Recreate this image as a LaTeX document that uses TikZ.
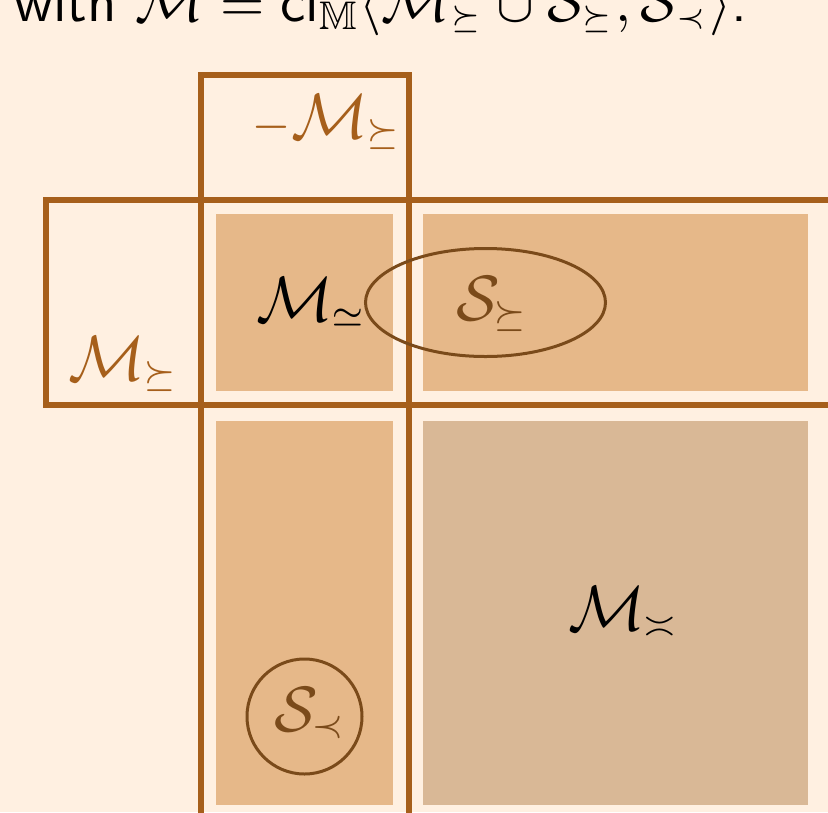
\documentclass[tikz,border=0pt]{standalone}
\usepackage{amsmath,amssymb}
\usepackage{fontspec}
\definecolor{bg}{HTML}{FFF0E1}
\definecolor{framec}{HTML}{A65F1B}
\definecolor{cellA}{HTML}{E6B889}
\definecolor{cellB}{HTML}{D9B896}
\definecolor{ringc}{HTML}{7A4A1A}
\newcommand{\ssub}[1]{_{\kern-0.4pt\raisebox{0.8pt}{$\scriptscriptstyle #1$}}}
\newcommand{\tsub}[1]{_{\raisebox{0.6pt}{$\scriptscriptstyle #1$}}}
\tikzset{
  gridline/.style={draw=framec, line width=6pt},
  ringline/.style={draw=ringc, line width=3pt},
  lab/.style={inner sep=0pt, anchor=base west, scale=6.4, transform shape},
}
\begin{document}
\begin{tikzpicture}[x=1pt,y=-1pt]
\useasboundingbox (0,0) rectangle (828,812);
\fill[bg] (0,0) rectangle (828,812);
% cells
\fill[cellA] (216,214) rectangle (393,391);
\fill[cellA] (423,214) rectangle (808,391);
\fill[cellA] (216,421) rectangle (393,805);
\fill[cellB] (423,421) rectangle (808,805);
% frames
\draw[gridline] (201,830) -- (201,74.5) -- (408.5,74.5) -- (408.5,830);
\draw[gridline] (840,199.5) -- (45.5,199.5) -- (45.5,405) -- (840,405);
% rings
\draw[ringline] (485.5,302.5) ellipse [x radius=120, y radius=54];
\draw[ringline] (304.5,716.5) circle [radius=57.5];
% labels
\node[lab, text=framec] (mneg) at (250,138) {${\scriptstyle-}\mathcal{M}\ssub{\succeq}$};
\node[lab, text=framec] (mge) at (67,380) {$\mathcal{M}\ssub{\succeq}$};
\node[lab, text=black] (msim) at (255,321) {$\mathcal{M}\ssub{\simeq}$};
\node[lab, text=ringc] (sge) at (455,320) {$\mathcal{S}\ssub{\succeq}$};
\node[lab, text=black] (masy) at (567,630) {$\mathcal{M}\ssub{\asymp}$};
\node[lab, text=ringc] (sprec) at (273,731) {$\mathcal{S}\ssub{\prec}$};
\node[inner sep=0pt, anchor=base west, scale=5.7, transform shape, font=\sffamily] (title) at (13,21)
  {with $\mathcal{M} = \text{cl}_{\mathbb{M}}\langle \mathcal{M}\tsub{\succeq} \cup \mathcal{S}\tsub{\succeq}, \mathcal{S}\tsub{\prec}\rangle$.};
\end{tikzpicture}
\end{document}
